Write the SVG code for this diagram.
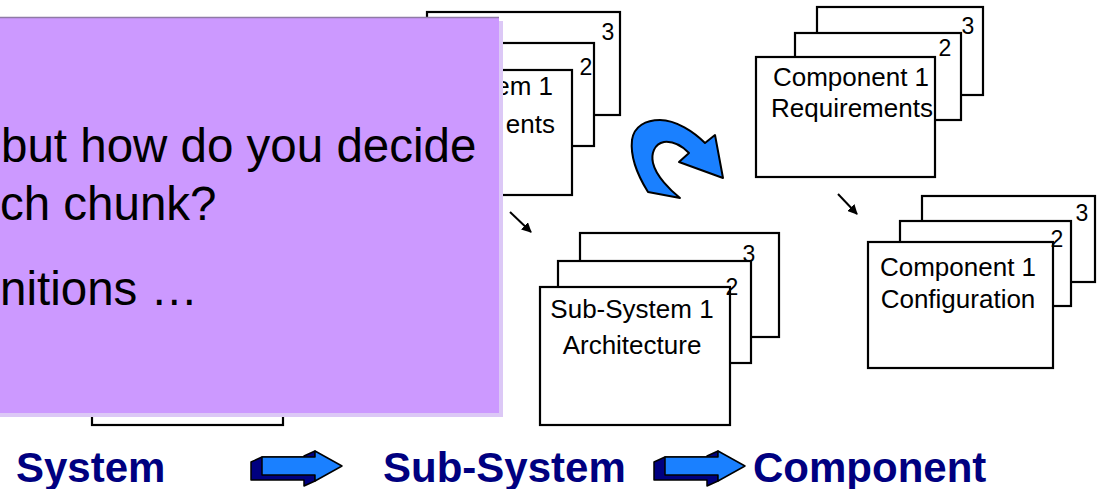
<svg xmlns="http://www.w3.org/2000/svg" width="1098" height="489" viewBox="0 0 1098 489">
  <defs>
    <style>
      .sheet { fill: #ffffff; stroke: #000000; stroke-width: 2.2; }
      .lbl { font-family: "Liberation Sans", Arial, sans-serif; font-size: 26px; fill: #000000; text-anchor: middle; }
      .lblEnd { font-family: "Liberation Sans", Arial, sans-serif; font-size: 26px; fill: #000000; text-anchor: end; }
      .num { font-family: "Liberation Sans", Arial, sans-serif; font-size: 23px; fill: #000000; text-anchor: middle; }
      .big { font-family: "Liberation Sans", Arial, sans-serif; font-size: 47.5px; fill: #000000; }
      .stage { font-family: "Liberation Sans", Arial, sans-serif; font-size: 42px; font-weight: bold; fill: #000080; }
      .flow { stroke: #000000; stroke-width: 2; fill: none; marker-end: url(#head); }
      .blockFace { fill: #1a80ff; stroke: #000000; stroke-width: 1.5; stroke-linejoin: round; }
      .blockSide { fill: #000080; stroke: #000000; stroke-width: 1.5; stroke-linejoin: round; }
    </style>
    <marker id="head" viewBox="0 0 10 10" refX="9" refY="5" markerWidth="5" markerHeight="5" orient="auto" markerUnits="strokeWidth">
      <path d="M0,0 L10,5 L0,10 Z" fill="#000000"/>
    </marker>
    <!-- 3D block arrow: extruded side first, then the blue front face -->
    <g id="blockArrow">
      <path class="blockSide" d="M315,481 L304,486 L304,480 L251,480 L251,462 L262,457 L304,457 L304,456 L315,451 Z"/>
      <path class="blockFace" d="M262,457 L315,457 L315,451 L342,466 L315,481 L315,475 L262,475 Z"/>
    </g>
  </defs>

  <!-- Sub-System 1 Requirements stack -->
  <g id="subsys-req">
    <rect class="sheet" x="427" y="12" width="193" height="103"/>
    <rect class="sheet" x="400" y="43" width="194" height="103"/>
    <rect class="sheet" x="379" y="70" width="193" height="125"/>
    <text class="num" x="608" y="40">3</text>
    <text class="num" x="586" y="75">2</text>
    <text class="lblEnd" x="553" y="95">em 1</text>
    <text class="lblEnd" x="555" y="133">ents</text>
  </g>

  <!-- System box, mostly under the callout -->
  <g id="system-box">
    <rect class="sheet" x="92" y="300" width="191" height="125"/>
  </g>

  <!-- Callout panel -->
  <g id="callout">
    <rect x="-10" y="21" width="513" height="396" fill="#dcc8f6"/>
    <rect x="-10" y="17" width="509" height="396" fill="#cc99ff"/>
    <line x1="0" y1="17.5" x2="499" y2="17.5" stroke="#8f7aa6" stroke-width="1.5"/>
    <text class="big" x="1" y="162">but how do you decide</text>
    <text class="big" x="0" y="220">ch chunk?</text>
    <text class="big" x="0" y="305">nitions …</text>
  </g>

  <!-- Sub-System 1 Architecture stack -->
  <g id="subsys-arch">
    <rect class="sheet" x="580" y="233" width="199" height="104"/>
    <rect class="sheet" x="558" y="261" width="193" height="102"/>
    <rect class="sheet" x="540" y="287" width="190" height="138"/>
    <text class="num" x="749" y="262">3</text>
    <text class="num" x="732" y="295">2</text>
    <text class="lbl" x="632" y="318">Sub-System 1</text>
    <text class="lbl" x="632" y="354">Architecture</text>
  </g>

  <!-- Component 1 Requirements stack -->
  <g id="comp-req">
    <rect class="sheet" x="817" y="7" width="166" height="88"/>
    <rect class="sheet" x="795" y="33" width="166" height="87"/>
    <rect class="sheet" x="756" y="57" width="179" height="120"/>
    <text class="num" x="968" y="34">3</text>
    <text class="num" x="945" y="56">2</text>
    <text class="lbl" x="851" y="86">Component 1</text>
    <text class="lbl" x="852" y="117">Requirements</text>
  </g>

  <!-- Component 1 Configuration stack -->
  <g id="comp-config">
    <rect class="sheet" x="922" y="196" width="173" height="86"/>
    <rect class="sheet" x="900" y="221" width="171" height="85"/>
    <rect class="sheet" x="868" y="242" width="185" height="126"/>
    <text class="num" x="1082" y="221">3</text>
    <text class="num" x="1057" y="247">2</text>
    <text class="lbl" x="958" y="276">Component 1</text>
    <text class="lbl" x="958" y="308">Configuration</text>
  </g>

  <!-- Connectors -->
  <g id="connectors">
    <line class="flow" x1="510" y1="212" x2="531" y2="232"/>
    <line class="flow" x1="838" y1="194" x2="857" y2="214"/>
    <path d="M648,192 C638,176 630,158 632,140 C634,126 646,120 660,120 C676,120 694,132 705,143 L715,135 L723,178 L679,162 L689,153 C682,146 673,141 664,142 C654,144 651,154 653,163 C656,176 670,190 680,198 Z" fill="#1a80ff" stroke="#000000" stroke-width="2" stroke-linejoin="round"/>
    <use href="#blockArrow"/>
    <use href="#blockArrow" transform="translate(403,0)"/>
  </g>

  <!-- Stage labels -->
  <g id="stages">
    <text class="stage" x="16" y="482">System</text>
    <text class="stage" x="383" y="482">Sub-System</text>
    <text class="stage" x="753" y="482">Component</text>
  </g>
</svg>
